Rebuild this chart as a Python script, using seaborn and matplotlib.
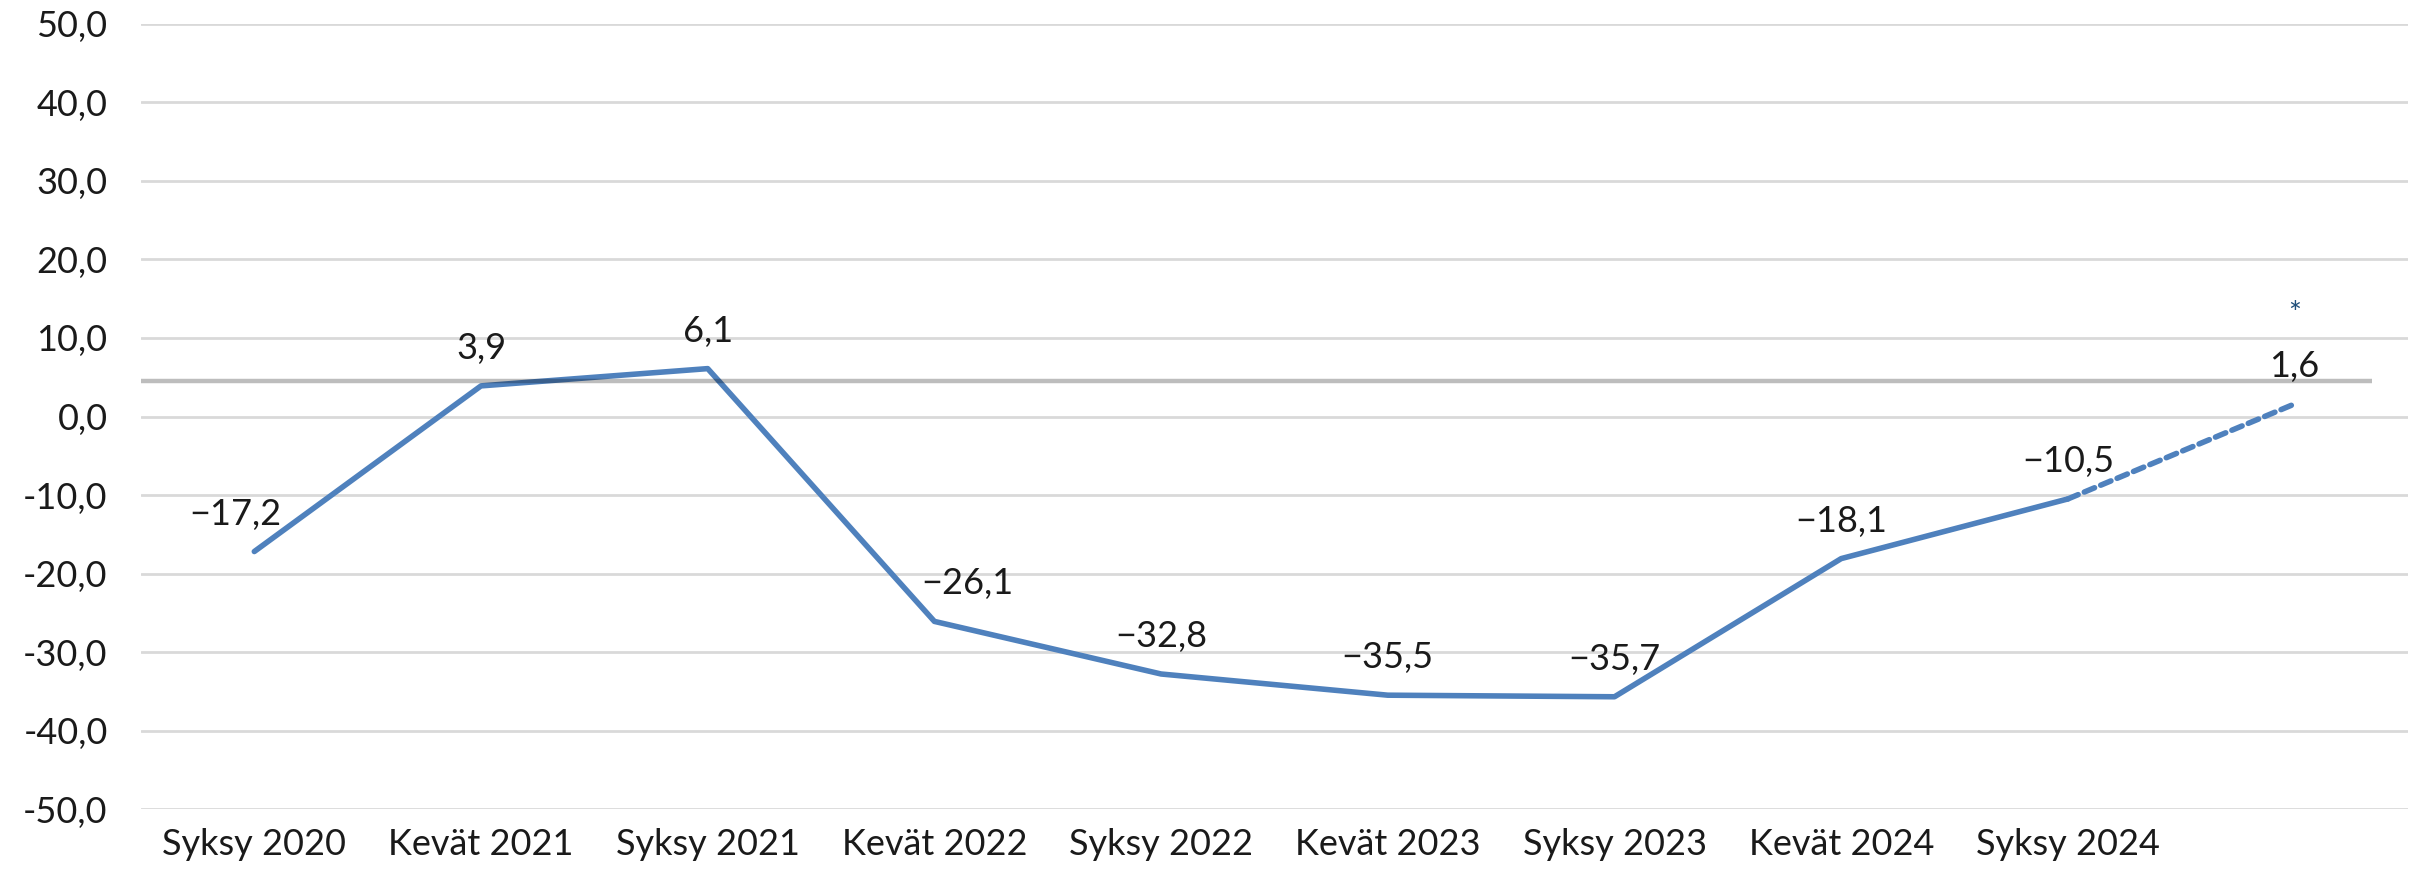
import seaborn as sns
import matplotlib.pyplot as plt
import pandas as pd

# data
categories = ['Syksy 2020', 'Kevät 2021', 'Syksy 2021', 'Kevät 2022', 'Syksy 2022',
              'Kevät 2023', 'Syksy 2023', 'Kevät 2024', 'Syksy 2024', '']
values = [-17.2, 3.9, 6.1, -26.1, -32.8, -35.5, -35.7, -18.1, -10.5, 1.6]
reference_level = 4.5
star_value = 13.0
y_ticks = [-50, -40, -30, -20, -10, 0, 10, 20, 30, 40, 50]

df = pd.DataFrame({'pos': range(len(values)), 'value': values})
solid = df.iloc[:9]
dashed = df.iloc[8:]

sns.set_style('white')
plt.rcParams['font.family'] = ['Lato', 'DejaVu Sans']

fig = plt.figure(figsize=(24.22, 8.75), dpi=100)
ax = fig.add_axes([0.0582, 0.0754, 0.936, 0.8972])

line_color = '#4f81bd'
sns.lineplot(data=solid, x='pos', y='value', ax=ax, color=line_color, linewidth=4.0,
             solid_capstyle='round')
sns.lineplot(data=dashed, x='pos', y='value', ax=ax, color=line_color, linewidth=4.0,
             dashes=False, linestyle=(0, (2.0, 1.2)), dash_capstyle='round')

# gray reference line, drawn on top
ax.hlines(reference_level, -0.52, 9.34, color='black', alpha=0.26, linewidth=3.2, zorder=5)

# data labels
offsets = {0: -19, 3: 33}
for i, v in enumerate(values):
    txt = f'{v:.1f}'.replace('.', ',').replace('-', '\u2212')
    ax.annotate(txt, (i, v), xytext=(offsets.get(i, 0) * 0.72, 27), textcoords='offset points',
                ha='center', va='center', fontsize=26, color='#1a1a1a')

ax.text(9, star_value, '*', ha='center', va='center', fontsize=22, color='#1f4e79')

ax.set_xlim(-0.5, 9.5)
ax.set_ylim(-50, 50)
ax.set_yticks(y_ticks)
ax.set_yticklabels([f'{t:.1f}'.replace('.', ',') for t in y_ticks])
ax.set_xticks(range(len(categories)))
ax.set_xticklabels(categories)
ax.tick_params(axis='y', labelsize=26, length=0, pad=24, labelcolor='#1a1a1a')
ax.tick_params(axis='x', labelsize=26, length=0, pad=14, labelcolor='#1a1a1a')
ax.grid(axis='y', color='#d9d9d9', linewidth=2)
ax.set_axisbelow(True)
for s in ax.spines.values():
    s.set_visible(False)
ax.set_xlabel('')
ax.set_ylabel('')

fig.savefig('out.png', dpi=100)
